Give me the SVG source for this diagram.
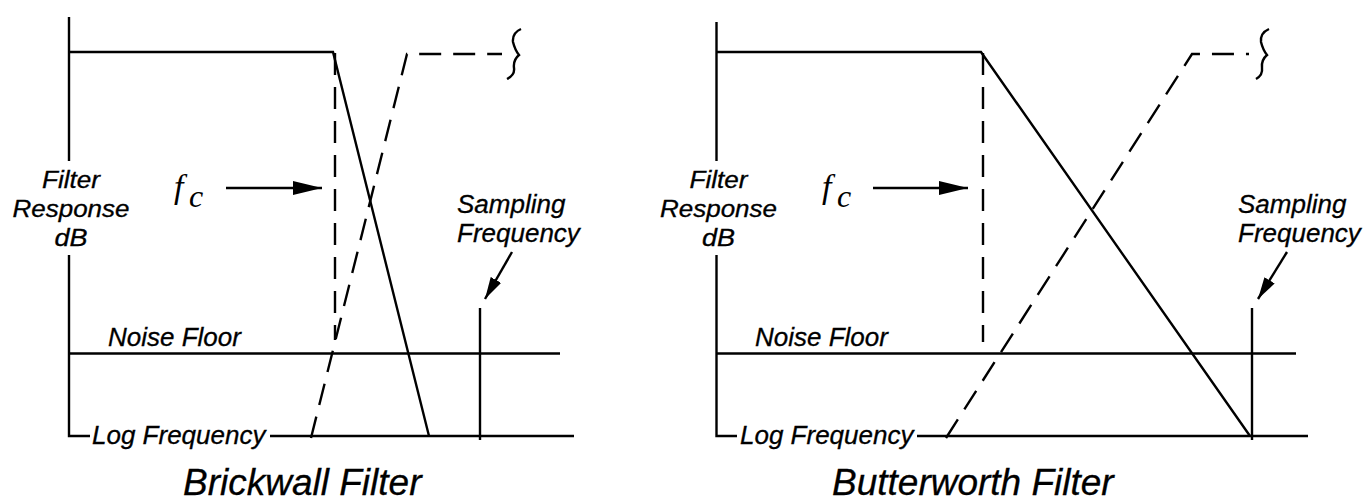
<svg xmlns="http://www.w3.org/2000/svg" width="1366" height="504" viewBox="0 0 1366 504">
<style>
.ln{stroke:#000;stroke-width:2.4;fill:none}
.ds{stroke:#000;stroke-width:2.4;fill:none;stroke-dasharray:22 12}
.t{font-family:"Liberation Sans",Arial,Helvetica,sans-serif;font-style:italic;font-size:26px;fill:#000;stroke:#000;stroke-width:0.3}
.lab{font-family:"Liberation Sans",Arial,Helvetica,sans-serif;font-style:italic;font-size:23px;fill:#000;stroke:#000;stroke-width:0.3;text-anchor:middle}
.ttl{font-family:"Liberation Sans",Arial,Helvetica,sans-serif;font-style:italic;font-size:37px;fill:#000;stroke:#000;stroke-width:0.3}
.fc{font-family:"Liberation Serif","Times New Roman",serif;font-style:italic;fill:#000}
</style>
<defs>
<marker id="ahf" viewBox="0 0 29 14" refX="29" refY="7" markerWidth="29" markerHeight="14" markerUnits="userSpaceOnUse" orient="auto"><path d="M0,0 L29,7 L0,14 z" fill="#000"/></marker>
<marker id="ahs" viewBox="0 0 22 12" refX="22" refY="6" markerWidth="22" markerHeight="12" markerUnits="userSpaceOnUse" orient="auto"><path d="M0,0 L22,6 L0,12 z" fill="#000"/></marker>
</defs>

<g id="brickwall">
  <g id="bw-axes">
    <path class="ln" d="M69,17 V161 M69,255 V436 H90"/>
    <path class="ln" d="M270,436 H574"/>
    <path class="ln" d="M69,353.5 H560"/>
  </g>
  <g id="bw-curves">
    <path class="ln" d="M69,52 H333 L429,436"/>
    <path class="ds" d="M335,53 V340"/>
    <path class="ds" d="M311,438 L407,54 H502"/>
    <path class="ln" d="M521,29 Q512,33 513,42 Q515,50 519,55 Q513,60 514,68 Q515,75 507,79"/>
    <path class="ln" d="M480,308 V440"/>
  </g>
  <g id="bw-labels">
    <text class="lab" x="71" y="188" textLength="58" lengthAdjust="spacingAndGlyphs">Filter</text>
    <text class="lab" x="71" y="217" textLength="117" lengthAdjust="spacingAndGlyphs">Response</text>
    <text class="lab" x="71" y="246" textLength="33" lengthAdjust="spacingAndGlyphs">dB</text>
    <text class="fc" x="174" y="198" font-size="34">f</text>
    <text class="fc" x="189" y="207" font-size="32">c</text>
    <text class="t" x="457" y="213">Sampling</text>
    <text class="t" x="457" y="242">Frequency</text>
    <text class="t" x="108" y="346">Noise Floor</text>
    <text class="t" x="92" y="444">Log Frequency</text>
    <text class="ttl" x="183" y="495">Brickwall Filter</text>
  </g>
</g>

<g id="butterworth">
  <g id="btw-axes">
    <path class="ln" d="M716.5,22 V161 M716.5,255 V436 H737"/>
    <path class="ln" d="M917,436 H1308"/>
    <path class="ln" d="M716.5,353.5 H1296"/>
  </g>
  <g id="btw-curves">
    <path class="ln" d="M716.5,52 H981 L1250,436"/>
    <path class="ds" d="M983,53 V342"/>
    <path class="ds" d="M946,438 L1192,54 H1249"/>
    <path class="ln" d="M1269,29 Q1260,33 1261,42 Q1263,50 1267,55 Q1261,60 1262,68 Q1263,75 1256,79"/>
    <path class="ln" d="M1252,308 V440"/>
  </g>
  <g id="btw-labels">
    <text class="lab" x="718.5" y="188" textLength="58" lengthAdjust="spacingAndGlyphs">Filter</text>
    <text class="lab" x="718.5" y="217" textLength="117" lengthAdjust="spacingAndGlyphs">Response</text>
    <text class="lab" x="718.5" y="246" textLength="33" lengthAdjust="spacingAndGlyphs">dB</text>
    <text class="fc" x="822" y="198" font-size="34">f</text>
    <text class="fc" x="837" y="207" font-size="32">c</text>
    <text class="t" x="1238" y="213">Sampling</text>
    <text class="t" x="1238" y="242">Frequency</text>
    <text class="t" x="755" y="346">Noise Floor</text>
    <text class="t" x="740" y="444">Log Frequency</text>
    <text class="ttl" x="832" y="495">Butterworth Filter</text>
  </g>
</g>

<g id="connectors">
  <path class="ln" d="M226,188 H322" marker-end="url(#ahf)"/>
  <path class="ln" d="M512,252 L485,299" marker-end="url(#ahs)"/>
  <path class="ln" d="M873,188 H968" marker-end="url(#ahf)"/>
  <path class="ln" d="M1287,252 L1258,299" marker-end="url(#ahs)"/>
</g>
</svg>
